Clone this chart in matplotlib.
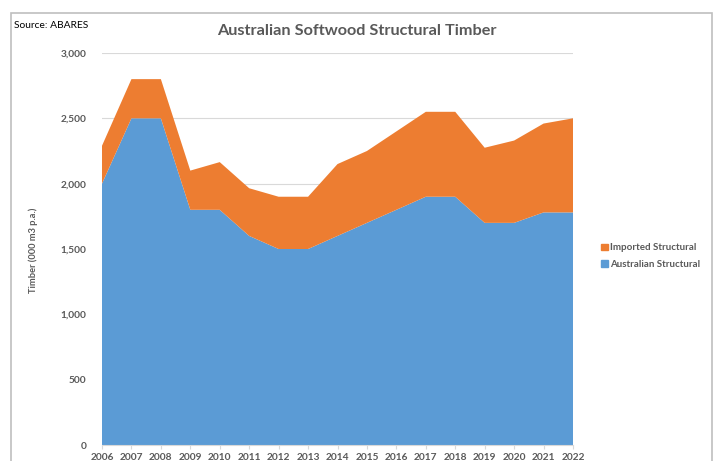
import matplotlib
matplotlib.use('Agg')
import matplotlib.pyplot as plt
from matplotlib.patches import Rectangle, Patch

plt.rcParams['font.family'] = ['Lato', 'DejaVu Sans']

years = [2006, 2007, 2008, 2009, 2010, 2011, 2012, 2013, 2014,
         2015, 2016, 2017, 2018, 2019, 2020, 2021, 2022]
australian = [2000, 2500, 2500, 1800, 1800, 1600, 1500, 1500, 1600,
              1700, 1800, 1900, 1900, 1700, 1700, 1780, 1780]
total = [2290, 2800, 2800, 2100, 2165, 1965, 1900, 1900, 2150,
         2250, 2400, 2550, 2550, 2275, 2330, 2460, 2500]
imported = [t - a for t, a in zip(total, australian)]

blue = '#5B9BD5'
orange = '#ED7D31'
grey_txt = '#595959'

fig = plt.figure(figsize=(7.18, 4.61), dpi=100)
ax = fig.add_axes([102 / 718, 1 - 445 / 461, 471 / 718, 392 / 461])

ax.stackplot(years, australian, imported, colors=[blue, orange], linewidth=0)

ax.set_xlim(2006, 2022)
ax.set_ylim(0, 3000)
ax.set_yticks(range(0, 3001, 500))
ax.set_yticklabels(['{:,}'.format(v) for v in range(0, 3001, 500)])
ax.set_xticks(years)
ax.set_xticklabels([str(y) for y in years])
ax.grid(axis='y', color='#D9D9D9', linewidth=0.8)
ax.set_axisbelow(True)
for s in ['top', 'right', 'left']:
    ax.spines[s].set_visible(False)
ax.spines['bottom'].set_color('#D9D9D9')
ax.tick_params(axis='y', length=0, pad=11, labelsize=7.3, labelcolor=grey_txt)
ax.tick_params(axis='x', length=3, color='#D9D9D9', pad=3, labelsize=7.3, labelcolor=grey_txt)
for lbl in ax.get_xticklabels() + ax.get_yticklabels():
    lbl.set_fontweight('bold')

fig.text(33 / 718, 1 - 250 / 461, 'Timber (000 m3 p.a.)', rotation=90, ha='center', va='center',
         fontsize=6.7, fontweight='bold', color=grey_txt)
fig.text(357 / 718, 1 - 31 / 461, 'Australian Softwood Structural Timber', ha='center', va='center',
         fontsize=11.7, fontweight='bold', color=grey_txt)
fig.text(14 / 718, 1 - 25 / 461, 'Source: ABARES', ha='left', va='center', fontsize=7.4, color='black')

handles = [Patch(color=orange, label='Imported Structural'),
           Patch(color=blue, label='Australian Structural')]
leg = fig.legend(handles=handles, loc='center left', bbox_to_anchor=(592 / 718, 1 - 256 / 461),
                 frameon=False, fontsize=7, handlelength=0.7, handleheight=0.7,
                 handletextpad=0.3, labelspacing=0.75)
for t in leg.get_texts():
    t.set_fontweight('bold')
    t.set_color(grey_txt)

fig.patches.append(Rectangle((11 / 718, -0.1), 701 / 718, 1.1 - 13 / 461, transform=fig.transFigure,
                             fill=False, edgecolor='#BFBFBF', linewidth=1.2))

fig.savefig('out.png', dpi=100)
